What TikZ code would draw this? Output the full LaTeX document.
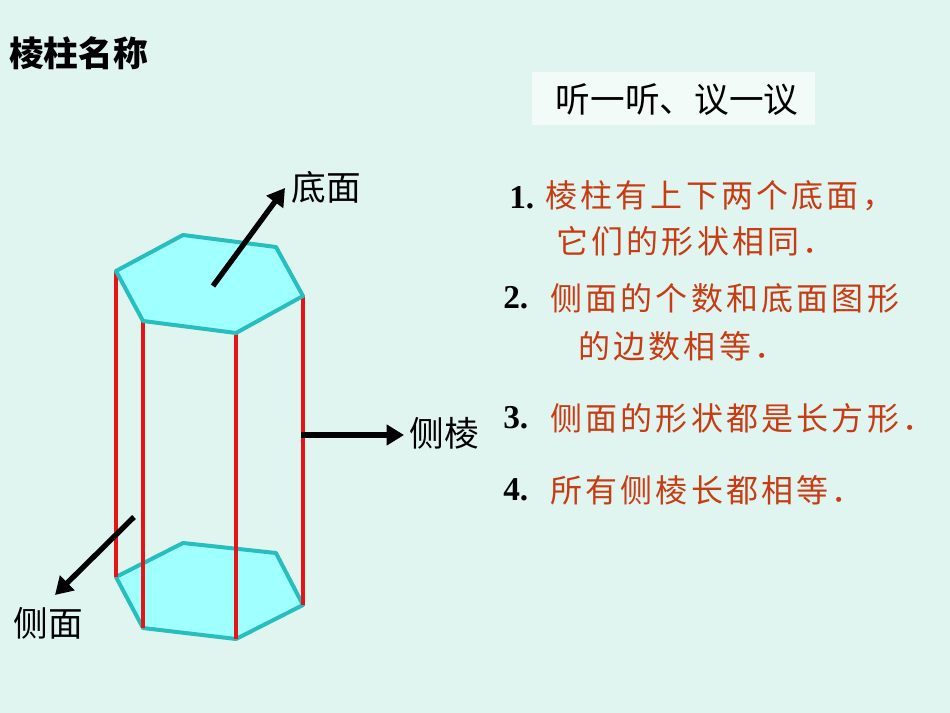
\documentclass[tikz,border=0pt]{standalone}
\usepackage{fontspec}
\newfontfamily\cjk{Noto Sans CJK SC}
\newfontfamily\cjksp[LetterSpace=10]{Noto Sans CJK SC}
\setmainfont{Liberation Serif}
\usetikzlibrary{arrows.meta}
\definecolor{bg}{RGB}{224,245,240}
\definecolor{face}{RGB}{160,255,255}
\definecolor{hexline}{RGB}{40,190,190}
\definecolor{edge}{RGB}{230,20,20}
\definecolor{txt}{RGB}{200,60,20}
\tikzset{px/.style={x=0.75pt,y=-0.75pt},
 hexs/.style={fill=face,draw=hexline,line width=3pt,line join=round},
 rededge/.style={draw=edge,line width=3pt},
 arr/.style={line width=4pt,-{Triangle[length=13pt,width=15pt]}},
 lab/.style={font=\cjk\fontsize{26}{30}\selectfont,inner sep=0pt},
 item/.style={font=\cjksp\fontsize{24}{28}\selectfont,text=txt,anchor=west,inner sep=0pt},
 num/.style={font=\bfseries\fontsize{25}{28}\selectfont,anchor=west,inner sep=0pt}}
\begin{document}
\begin{tikzpicture}[px]
\fill[bg] (0,0) rectangle (950,713);
\useasboundingbox (0,0) rectangle (950,713);
\node[lab,font=\cjk\bfseries\fontsize{26}{30}\selectfont,anchor=west] (title) at (9,53) {棱柱名称};
\fill[white!60!bg] (532,72) rectangle (815,125);
\node[lab] (listen) at (677,100) {听一听、议一议};
\path[hexs] (116,577)--(183,543)--(276,553)--(303,605)--(236,639)--(143,628)--cycle;
\foreach \x/\a/\b in {116/271/577,143/321/628,236/333/639,303/296/605}
  \draw[rededge] (\x,\a)--(\x,\b);
\path[hexs] (116,271)--(183,235)--(276,247)--(303,296)--(236,333)--(143,321)--cycle;
\node[lab] (dm) at (326,187) {底面};
\node[lab] (cl) at (444,433) {侧棱};
\node[lab] (cm) at (48,623) {侧面};
\coordinate (a1) at (213,286); \coordinate (a2) at (285,188);
\coordinate (b1) at (301,435); \coordinate (b2) at (404,435);
\coordinate (c1) at (134,517); \coordinate (c2) at (55,595);
\draw[arr] (a1)--(a2);
\draw[arr] (b1)--(b2);
\draw[arr] (c1)--(c2);
\node[num] (n1) at (509,198) {1.};
\node[item] (t1) at (545,196) {棱柱有上下两个底面，};
\node[item] (t1b) at (556,241) {它们的形状相同．};
\node[num] (n2) at (503,298) {2.};
\node[item] (t2) at (550,298) {侧面的个数和底面图形};
\node[item] (t2b) at (578,346) {的边数相等．};
\node[num] (n3) at (503,418) {3.};
\node[item] (t3) at (550,418) {侧面的形状都是长方形．};
\node[num] (n4) at (503,490) {4.};
\node[item] (t4) at (550,490) {所有侧棱长都相等．};
\end{tikzpicture}
\end{document}
